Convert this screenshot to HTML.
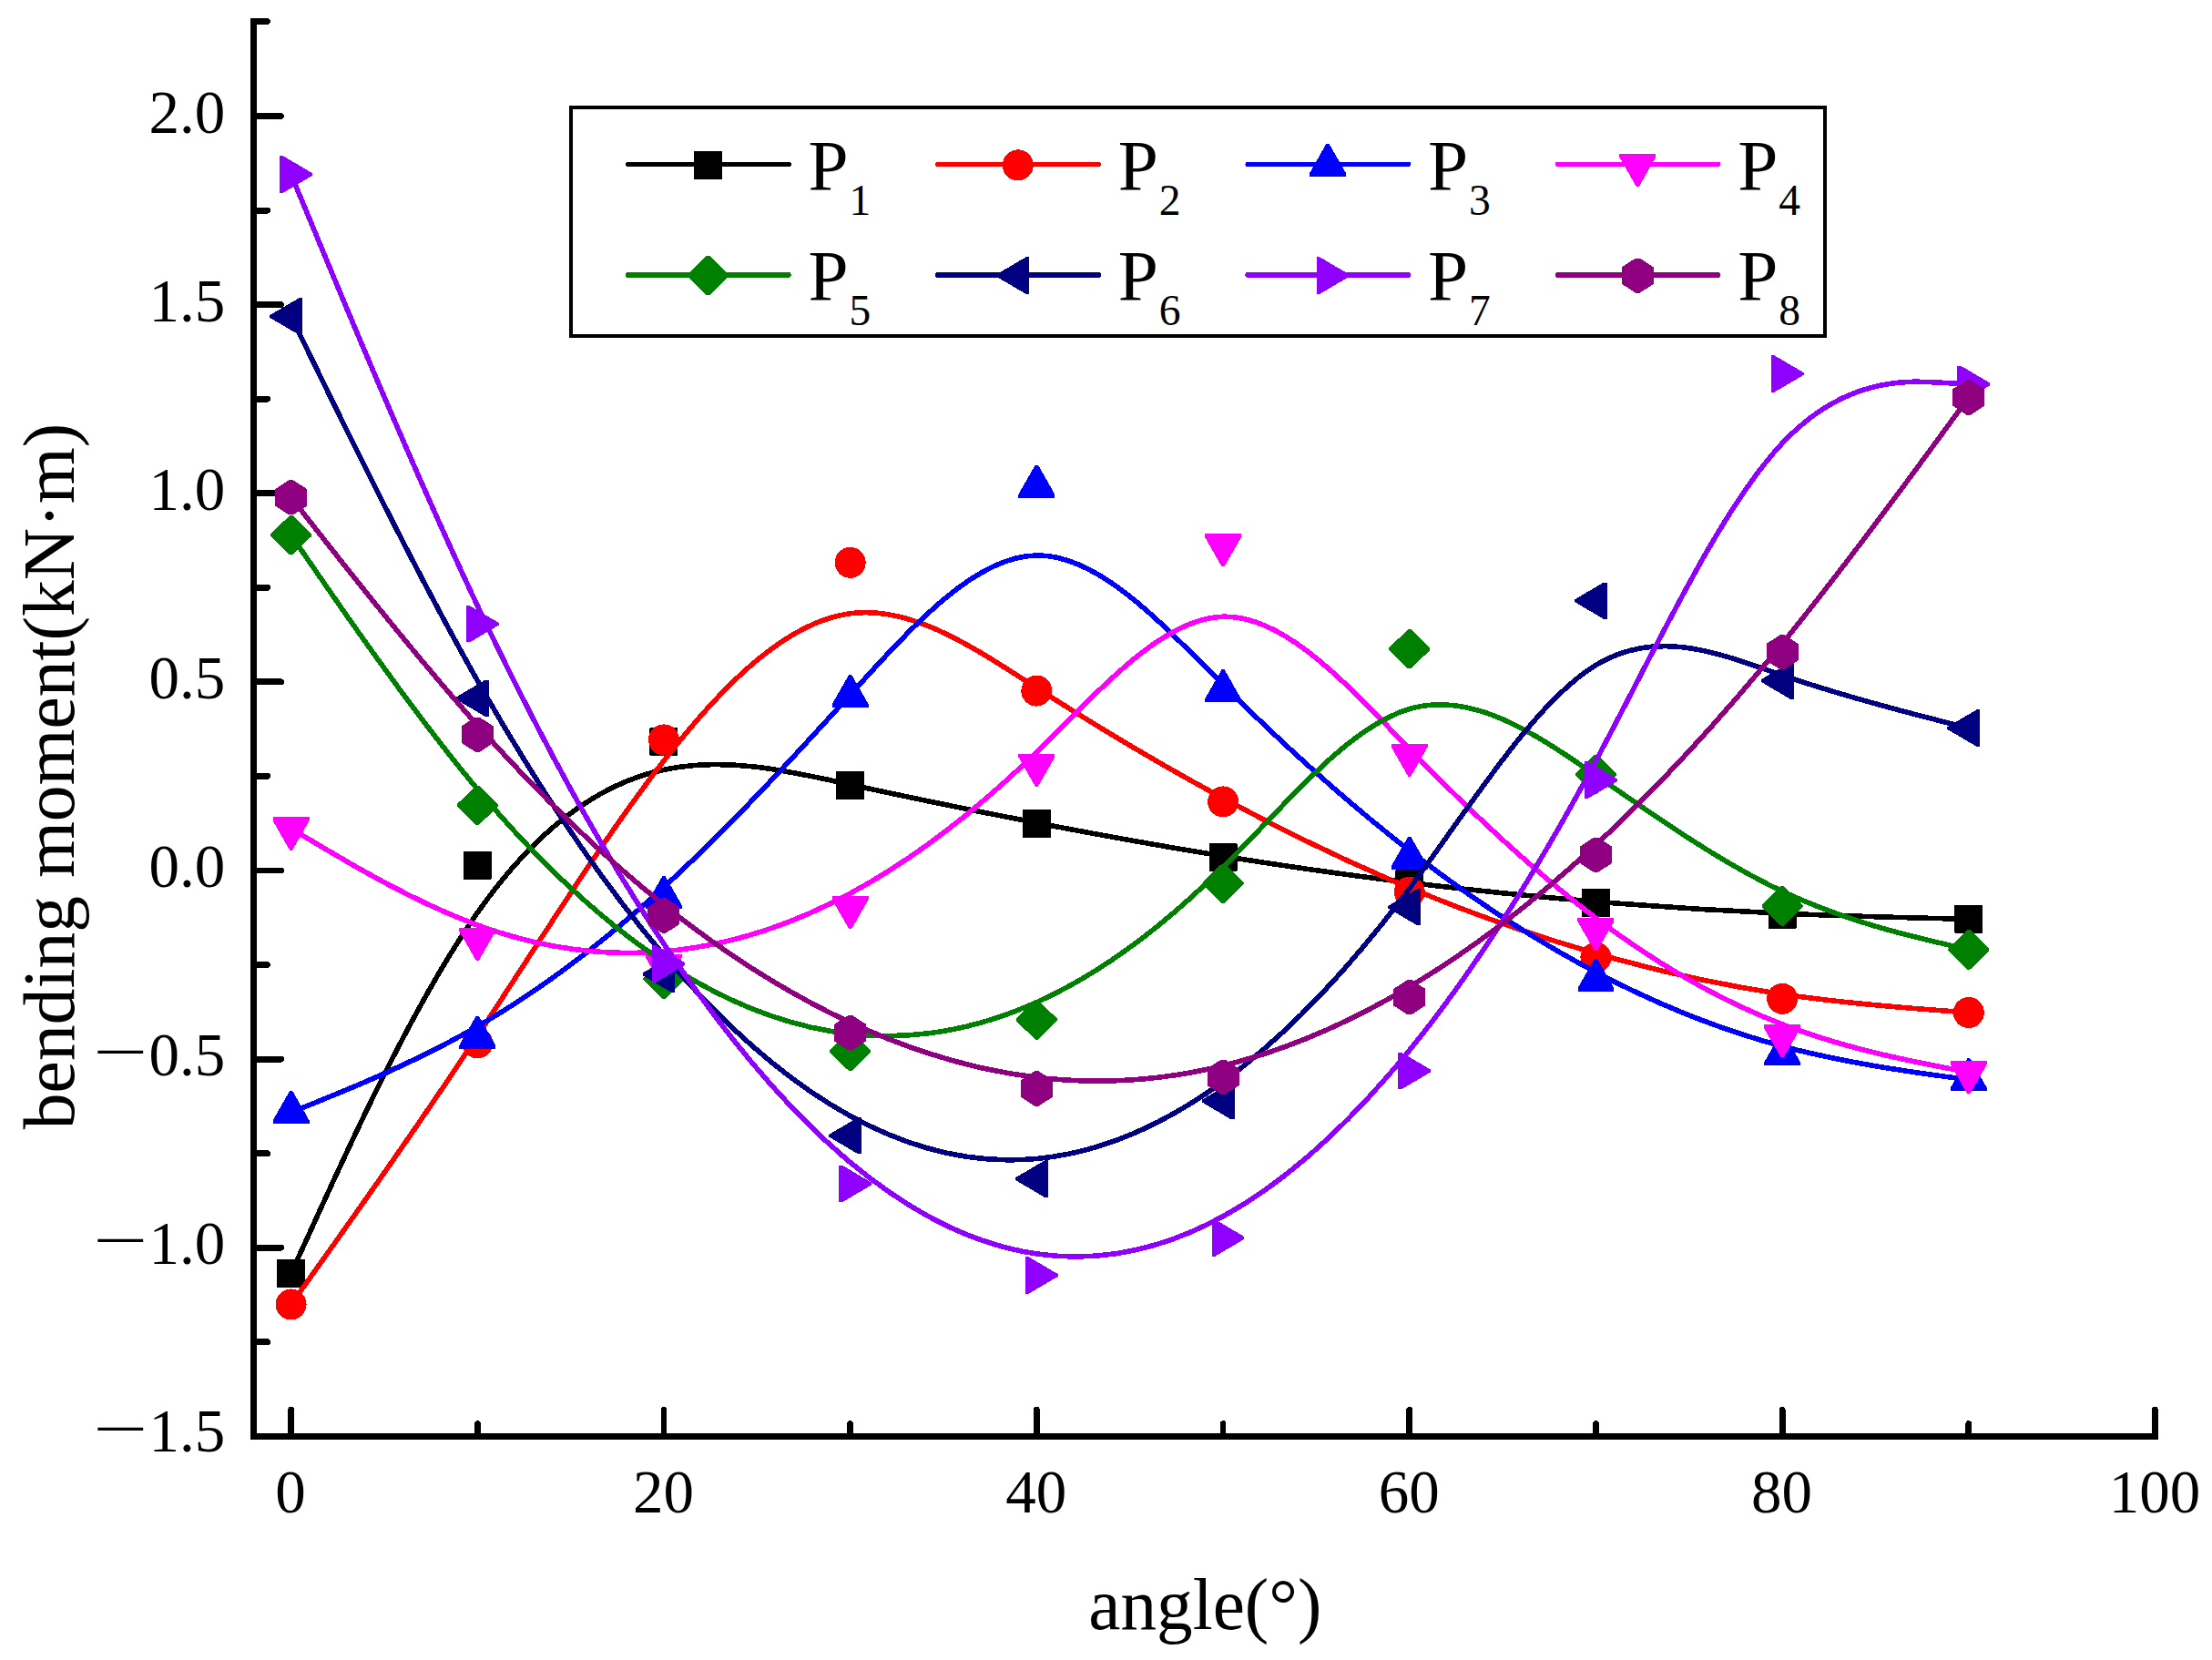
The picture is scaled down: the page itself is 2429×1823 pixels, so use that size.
<!DOCTYPE html>
<html lang="en"><head><meta charset="utf-8"><title>bending moment vs angle</title>
<style>html,body{margin:0;padding:0;background:#fff}svg{display:block}text{font-family:"Liberation Serif", "Times New Roman", serif;fill:#000}</style></head><body>
<svg width="2429" height="1823" viewBox="0 0 2429 1823" shape-rendering="crispEdges">
<rect width="2429" height="1823" fill="#fff"/>
<g stroke="#000" stroke-width="6.8" fill="none" stroke-linecap="round">
<path d="M278.7,23.5V1577.3H2366.5" stroke-linecap="butt" stroke-linejoin="miter"/>
<path d="M278.7,20.1V23.5M2366.5,1577.3H2369.9" stroke-linecap="butt"/>
<line x1="278.7" y1="23.5" x2="293.6" y2="23.5"/>
<line x1="278.7" y1="127.54" x2="308.5" y2="127.54"/>
<line x1="278.7" y1="231.1" x2="293.6" y2="231.1"/>
<line x1="278.7" y1="334.65" x2="308.5" y2="334.65"/>
<line x1="278.7" y1="438.21" x2="293.6" y2="438.21"/>
<line x1="278.7" y1="541.77" x2="308.5" y2="541.77"/>
<line x1="278.7" y1="645.33" x2="293.6" y2="645.33"/>
<line x1="278.7" y1="748.88" x2="308.5" y2="748.88"/>
<line x1="278.7" y1="852.44" x2="293.6" y2="852.44"/>
<line x1="278.7" y1="956" x2="308.5" y2="956"/>
<line x1="278.7" y1="1059.56" x2="293.6" y2="1059.56"/>
<line x1="278.7" y1="1163.12" x2="308.5" y2="1163.12"/>
<line x1="278.7" y1="1266.67" x2="293.6" y2="1266.67"/>
<line x1="278.7" y1="1370.23" x2="308.5" y2="1370.23"/>
<line x1="278.7" y1="1473.79" x2="293.6" y2="1473.79"/>
<line x1="319.6" y1="1577.3" x2="319.6" y2="1548.3"/>
<line x1="524.29" y1="1577.3" x2="524.29" y2="1563.7"/>
<line x1="728.98" y1="1577.3" x2="728.98" y2="1548.3"/>
<line x1="933.67" y1="1577.3" x2="933.67" y2="1563.7"/>
<line x1="1138.36" y1="1577.3" x2="1138.36" y2="1548.3"/>
<line x1="1343.05" y1="1577.3" x2="1343.05" y2="1563.7"/>
<line x1="1547.74" y1="1577.3" x2="1547.74" y2="1548.3"/>
<line x1="1752.43" y1="1577.3" x2="1752.43" y2="1563.7"/>
<line x1="1957.12" y1="1577.3" x2="1957.12" y2="1548.3"/>
<line x1="2161.81" y1="1577.3" x2="2161.81" y2="1563.7"/>
<line x1="2366.5" y1="1577.3" x2="2366.5" y2="1548.3"/>
</g>
<g font-size="67">
<text x="319.1" y="1660.5" text-anchor="middle">0</text>
<text x="728.48" y="1660.5" text-anchor="middle">20</text>
<text x="1137.86" y="1660.5" text-anchor="middle">40</text>
<text x="1547.24" y="1660.5" text-anchor="middle">60</text>
<text x="1956.62" y="1660.5" text-anchor="middle">80</text>
<text x="2366" y="1660.5" text-anchor="middle">100</text>
<text x="247.3" y="145.94" text-anchor="end">2.0</text>
<text x="247.3" y="352.87" text-anchor="end">1.5</text>
<text x="247.3" y="559.8" text-anchor="end">1.0</text>
<text x="247.3" y="766.73" text-anchor="end">0.5</text>
<text x="247.3" y="973.66" text-anchor="end">0.0</text>
<text x="247.3" y="1180.59" text-anchor="end">0.5</text>
<text x="0" y="0" transform="translate(102,1175.79) scale(1.6,0.93)">−</text>
<text x="247.3" y="1387.52" text-anchor="end">1.0</text>
<text x="0" y="0" transform="translate(102,1382.72) scale(1.6,0.93)">−</text>
<text x="247.3" y="1594.45" text-anchor="end">1.5</text>
<text x="0" y="0" transform="translate(102,1589.65) scale(1.6,0.93)">−</text>
</g>
<text transform="translate(1323.3,1788.5) scale(0.978,1)" font-size="81" text-anchor="middle">angle(°)</text>
<text transform="translate(81.3,852.5) rotate(-90) scale(0.982,1)" font-size="81" text-anchor="middle">bending moment(kN·m)</text>
<path d="M319.6,1398.6C319.6,1398.6 319.6,1398.6 353.71,1323.87C387.83,1249.14 456.06,1099.67 524.29,1002.36C592.52,905.05 660.75,859.9 728.98,845.3C797.21,830.7 865.44,846.64 933.67,861.59C1001.9,876.54 1070.13,890.48 1138.36,903.63C1206.59,916.79 1274.82,929.14 1343.05,940.2C1411.28,951.25 1479.51,961 1547.74,969.33C1615.97,977.66 1684.2,984.58 1752.43,990.2C1820.66,995.82 1888.89,1000.14 1957.12,1003.13C2025.35,1006.11 2093.58,1007.75 2127.7,1008.57C2161.81,1009.39 2161.81,1009.39 2161.81,1009.39" fill="none" stroke="#000000" stroke-width="5.6" stroke-linecap="round" stroke-linejoin="round"/>
<g><rect x="304.1" y="1383.1" width="31" height="31" rx="1.2" fill="#000000"/><rect x="508.79" y="934.7" width="31" height="31" rx="1.2" fill="#000000"/><rect x="713.48" y="799.25" width="31" height="31" rx="1.2" fill="#000000"/><rect x="918.17" y="847.09" width="31" height="31" rx="1.2" fill="#000000"/><rect x="1122.86" y="888.93" width="31" height="31" rx="1.2" fill="#000000"/><rect x="1327.55" y="926" width="31" height="31" rx="1.2" fill="#000000"/><rect x="1532.24" y="955.25" width="31" height="31" rx="1.2" fill="#000000"/><rect x="1736.93" y="976" width="31" height="31" rx="1.2" fill="#000000"/><rect x="1941.62" y="988.96" width="31" height="31" rx="1.2" fill="#000000"/><rect x="2146.31" y="993.89" width="31" height="31" rx="1.2" fill="#000000"/></g>
<path d="M319.6,1432.49C319.6,1432.49 319.6,1432.49 353.71,1384.62C387.83,1336.76 456.06,1241.03 524.29,1137.68C592.52,1034.33 660.75,923.36 728.98,835.45C797.21,747.53 865.44,682.68 933.67,673.72C1001.9,664.75 1070.13,711.69 1138.36,755.45C1206.59,799.21 1274.82,839.81 1343.05,876.64C1411.28,913.47 1479.51,946.54 1547.74,975.05C1615.97,1003.57 1684.2,1027.52 1752.43,1047.05C1820.66,1066.59 1888.89,1081.69 1957.12,1091.78C2025.35,1101.86 2093.58,1106.93 2127.7,1109.47C2161.81,1112 2161.81,1112 2161.81,1112" fill="none" stroke="#ff0000" stroke-width="5.6" stroke-linecap="round" stroke-linejoin="round"/>
<g><circle cx="319.6" cy="1432.49" r="17" fill="#ff0000"/><circle cx="524.29" cy="1145.3" r="17" fill="#ff0000"/><circle cx="728.98" cy="812.39" r="17" fill="#ff0000"/><circle cx="933.67" cy="617.82" r="17" fill="#ff0000"/><circle cx="1138.36" cy="758.62" r="17" fill="#ff0000"/><circle cx="1343.05" cy="880.4" r="17" fill="#ff0000"/><circle cx="1547.74" cy="979.61" r="17" fill="#ff0000"/><circle cx="1752.43" cy="1051.48" r="17" fill="#ff0000"/><circle cx="1957.12" cy="1096.8" r="17" fill="#ff0000"/><circle cx="2161.81" cy="1112" r="17" fill="#ff0000"/></g>
<path d="M319.6,1221.56C319.6,1221.56 319.6,1221.56 353.71,1207.82C387.83,1194.09 456.06,1166.61 524.29,1127.26C592.52,1087.92 660.75,1036.71 728.98,974.27C797.21,911.83 865.44,838.17 933.67,762.93C1001.9,687.7 1070.13,610.9 1138.36,609.96C1206.59,609.01 1274.82,683.92 1343.05,751.97C1411.28,820.02 1479.51,881.22 1547.74,934.15C1615.97,987.08 1684.2,1031.75 1752.43,1067.66C1820.66,1103.58 1888.89,1130.74 1957.12,1148.97C2025.35,1167.2 2093.58,1176.51 2127.7,1181.16C2161.81,1185.81 2161.81,1185.81 2161.81,1185.81" fill="none" stroke="#0000ff" stroke-width="5.6" stroke-linecap="round" stroke-linejoin="round"/>
<g><polygon points="318.1,1198.01 321.1,1198.01 339.5,1230.26 339.5,1234.06 299.7,1234.06 299.7,1230.26" fill="#0000ff"/><polygon points="522.79,1115.58 525.79,1115.58 544.19,1147.83 544.19,1151.63 504.39,1151.63 504.39,1147.83" fill="#0000ff"/><polygon points="727.48,961.94 730.48,961.94 748.88,994.19 748.88,997.99 709.08,997.99 709.08,994.19" fill="#0000ff"/><polygon points="932.17,740.95 935.17,740.95 953.57,773.2 953.57,777 913.77,777 913.77,773.2" fill="#0000ff"/><polygon points="1136.86,510.56 1139.86,510.56 1158.26,542.81 1158.26,546.61 1118.46,546.61 1118.46,542.81" fill="#0000ff"/><polygon points="1341.55,735.28 1344.55,735.28 1362.95,767.53 1362.95,771.33 1323.15,771.33 1323.15,767.53" fill="#0000ff"/><polygon points="1546.24,918.86 1549.24,918.86 1567.64,951.11 1567.64,954.91 1527.84,954.91 1527.84,951.11" fill="#0000ff"/><polygon points="1750.93,1052.87 1753.93,1052.87 1772.33,1085.12 1772.33,1088.92 1732.53,1088.92 1732.53,1085.12" fill="#0000ff"/><polygon points="1955.62,1134.35 1958.62,1134.35 1977.02,1166.6 1977.02,1170.4 1937.22,1170.4 1937.22,1166.6" fill="#0000ff"/><polygon points="2160.31,1162.26 2163.31,1162.26 2181.71,1194.51 2181.71,1198.31 2141.91,1198.31 2141.91,1194.51" fill="#0000ff"/></g>
<path d="M319.6,909.98C319.6,909.98 319.6,909.98 353.71,930.21C387.83,950.44 456.06,990.89 524.29,1015.95C592.52,1041.01 660.75,1050.68 728.98,1044.88C797.21,1039.08 865.44,1017.82 933.67,981.11C1001.9,944.4 1070.13,892.25 1138.36,825.92C1206.59,759.6 1274.82,679.1 1343.05,677.25C1411.28,675.4 1479.51,752.2 1547.74,822.54C1615.97,892.87 1684.2,956.75 1752.43,1008.21C1820.66,1059.68 1888.89,1098.74 1957.12,1124.9C2025.35,1151.06 2093.58,1164.32 2127.7,1170.94C2161.81,1177.57 2161.81,1177.57 2161.81,1177.57" fill="none" stroke="#ff00ff" stroke-width="5.6" stroke-linecap="round" stroke-linejoin="round"/>
<g><polygon points="318.1,933.53 321.1,933.53 339.6,901.28 339.6,897.48 299.6,897.48 299.6,901.28" fill="#ff00ff"/><polygon points="522.79,1054.9 525.79,1054.9 544.29,1022.65 544.29,1018.85 504.29,1018.85 504.29,1022.65" fill="#ff00ff"/><polygon points="727.48,1083.89 730.48,1083.89 748.98,1051.64 748.98,1047.84 708.98,1047.84 708.98,1051.64" fill="#ff00ff"/><polygon points="932.17,1020.1 935.17,1020.1 953.67,987.85 953.67,984.05 913.67,984.05 913.67,987.85" fill="#ff00ff"/><polygon points="1136.86,863.65 1139.86,863.65 1158.36,831.4 1158.36,827.6 1118.36,827.6 1118.36,831.4" fill="#ff00ff"/><polygon points="1341.55,622.15 1344.55,622.15 1363.05,589.9 1363.05,586.1 1323.05,586.1 1323.05,589.9" fill="#ff00ff"/><polygon points="1546.24,852.55 1549.24,852.55 1567.74,820.3 1567.74,816.5 1527.74,816.5 1527.74,820.3" fill="#ff00ff"/><polygon points="1750.93,1044.17 1753.93,1044.17 1772.43,1011.92 1772.43,1008.12 1732.43,1008.12 1732.43,1011.92" fill="#ff00ff"/><polygon points="1955.62,1161.36 1958.62,1161.36 1977.12,1129.11 1977.12,1125.31 1937.12,1125.31 1937.12,1129.11" fill="#ff00ff"/><polygon points="2160.31,1201.12 2163.31,1201.12 2181.81,1168.87 2181.81,1165.07 2141.81,1165.07 2141.81,1168.87" fill="#ff00ff"/></g>
<path d="M319.6,587.75C319.6,587.75 319.6,587.75 353.71,637.18C387.83,686.61 456.06,785.48 524.29,866.69C592.52,947.89 660.75,1011.45 728.98,1056.46C797.21,1101.48 865.44,1127.95 933.67,1135.43C1001.9,1142.91 1070.13,1131.41 1138.36,1100.71C1206.59,1070.01 1274.82,1020.11 1343.05,952.24C1411.28,884.38 1479.51,798.55 1547.74,778.56C1615.97,758.58 1684.2,804.43 1752.43,851.46C1820.66,898.49 1888.89,946.69 1957.12,978.81C2025.35,1010.93 2093.58,1026.96 2127.7,1034.97C2161.81,1042.99 2161.81,1042.99 2161.81,1042.99" fill="none" stroke="#008000" stroke-width="5.6" stroke-linecap="round" stroke-linejoin="round"/>
<g><polygon points="318.1,566.05 321.1,566.05 342.1,586.55 342.1,588.95 321.1,609.45 318.1,609.45 297.1,588.95 297.1,586.55" fill="#008000"/><polygon points="522.79,862.64 525.79,862.64 546.79,883.14 546.79,885.54 525.79,906.04 522.79,906.04 501.79,885.54 501.79,883.14" fill="#008000"/><polygon points="727.48,1053.31 730.48,1053.31 751.48,1073.81 751.48,1076.21 730.48,1096.71 727.48,1096.71 706.48,1076.21 706.48,1073.81" fill="#008000"/><polygon points="932.17,1132.72 935.17,1132.72 956.17,1153.22 956.17,1155.62 935.17,1176.12 932.17,1176.12 911.17,1155.62 911.17,1153.22" fill="#008000"/><polygon points="1136.86,1098.21 1139.86,1098.21 1160.86,1118.71 1160.86,1121.11 1139.86,1141.61 1136.86,1141.61 1115.86,1121.11 1115.86,1118.71" fill="#008000"/><polygon points="1341.55,948.51 1344.55,948.51 1365.55,969.01 1365.55,971.41 1344.55,991.91 1341.55,991.91 1320.55,971.41 1320.55,969.01" fill="#008000"/><polygon points="1546.24,691.02 1549.24,691.02 1570.24,711.52 1570.24,713.92 1549.24,734.42 1546.24,734.42 1525.24,713.92 1525.24,711.52" fill="#008000"/><polygon points="1750.93,828.59 1753.93,828.59 1774.93,849.09 1774.93,851.49 1753.93,871.99 1750.93,871.99 1729.93,851.49 1729.93,849.09" fill="#008000"/><polygon points="1955.62,973.2 1958.62,973.2 1979.62,993.7 1979.62,996.1 1958.62,1016.6 1955.62,1016.6 1934.62,996.1 1934.62,993.7" fill="#008000"/><polygon points="2160.31,1021.29 2163.31,1021.29 2184.31,1041.79 2184.31,1044.19 2163.31,1064.69 2160.31,1064.69 2139.31,1044.19 2139.31,1041.79" fill="#008000"/></g>
<path d="M319.6,347.5C319.6,347.5 319.6,347.5 353.71,417.38C387.83,487.27 456.06,627.05 524.29,747.45C592.52,867.85 660.75,968.88 728.98,1048.95C797.21,1129.01 865.44,1188.11 933.67,1225.56C1001.9,1263.01 1070.13,1278.82 1138.36,1272.47C1206.59,1266.12 1274.82,1237.61 1343.05,1187.87C1411.28,1138.12 1479.51,1067.15 1547.74,975.59C1615.97,884.02 1684.2,771.86 1752.43,730.42C1820.66,688.97 1888.89,718.25 1957.12,741.57C2025.35,764.89 2093.58,782.26 2127.7,790.94C2161.81,799.63 2161.81,799.63 2161.81,799.63" fill="none" stroke="#000080" stroke-width="5.6" stroke-linecap="round" stroke-linejoin="round"/>
<g><polygon points="296.2,346.2 296.2,348.8 328.3,367.7 332.1,367.7 332.1,327.3 328.3,327.3" fill="#000080"/><polygon points="500.89,765.52 500.89,768.12 532.99,787.02 536.79,787.02 536.79,746.62 532.99,746.62" fill="#000080"/><polygon points="705.58,1068.61 705.58,1071.21 737.68,1090.11 741.48,1090.11 741.48,1049.71 737.68,1049.71" fill="#000080"/><polygon points="910.27,1245.9 910.27,1248.5 942.37,1267.4 946.17,1267.4 946.17,1227 942.37,1227" fill="#000080"/><polygon points="1114.96,1293.33 1114.96,1295.93 1147.06,1314.83 1150.86,1314.83 1150.86,1274.43 1147.06,1274.43" fill="#000080"/><polygon points="1319.65,1207.79 1319.65,1210.39 1351.75,1229.29 1355.55,1229.29 1355.55,1188.89 1351.75,1188.89" fill="#000080"/><polygon points="1524.34,994.88 1524.34,997.48 1556.44,1016.38 1560.24,1016.38 1560.24,975.98 1556.44,975.98" fill="#000080"/><polygon points="1729.03,658.4 1729.03,661 1761.13,679.9 1764.93,679.9 1764.93,639.5 1761.13,639.5" fill="#000080"/><polygon points="1933.72,746.22 1933.72,748.82 1965.82,767.72 1969.62,767.72 1969.62,727.32 1965.82,727.32" fill="#000080"/><polygon points="2138.41,798.33 2138.41,800.93 2170.51,819.83 2174.31,819.83 2174.31,779.43 2170.51,779.43" fill="#000080"/></g>
<path d="M319.6,191.5C319.6,191.5 319.6,191.5 353.71,273.78C387.83,356.07 456.06,520.64 524.29,665.15C592.52,809.65 660.75,934.09 728.98,1036.55C797.21,1139.02 865.44,1219.52 933.67,1276.52C1001.9,1333.52 1070.13,1367.01 1138.36,1376.92C1206.59,1386.83 1274.82,1373.14 1343.05,1335.73C1411.28,1298.32 1479.51,1237.18 1547.74,1153.38C1615.97,1069.58 1684.2,963.12 1752.43,835.54C1820.66,707.95 1888.89,559.22 1957.12,486.76C2025.35,414.3 2093.58,418.09 2127.7,419.99C2161.81,421.89 2161.81,421.89 2161.81,421.89" fill="none" stroke="#8f00ff" stroke-width="5.6" stroke-linecap="round" stroke-linejoin="round"/>
<g><polygon points="343,190.2 343,192.8 310.9,211.7 307.1,211.7 307.1,171.3 310.9,171.3" fill="#8f00ff"/><polygon points="547.69,683.92 547.69,686.52 515.59,705.42 511.79,705.42 511.79,665.02 515.59,665.02" fill="#8f00ff"/><polygon points="752.38,1057.22 752.38,1059.82 720.28,1078.72 716.48,1078.72 716.48,1038.32 720.28,1038.32" fill="#8f00ff"/><polygon points="957.07,1298.72 957.07,1301.32 924.97,1320.22 921.17,1320.22 921.17,1279.82 924.97,1279.82" fill="#8f00ff"/><polygon points="1161.76,1399.21 1161.76,1401.81 1129.66,1420.71 1125.86,1420.71 1125.86,1380.31 1129.66,1380.31" fill="#8f00ff"/><polygon points="1366.45,1358.16 1366.45,1360.76 1334.35,1379.66 1330.55,1379.66 1330.55,1339.26 1334.35,1339.26" fill="#8f00ff"/><polygon points="1571.14,1174.74 1571.14,1177.34 1539.04,1196.24 1535.24,1196.24 1535.24,1155.84 1539.04,1155.84" fill="#8f00ff"/><polygon points="1775.83,855.37 1775.83,857.97 1743.73,876.87 1739.93,876.87 1739.93,836.47 1743.73,836.47" fill="#8f00ff"/><polygon points="1980.52,409.2 1980.52,411.8 1948.42,430.7 1944.62,430.7 1944.62,390.3 1948.42,390.3" fill="#8f00ff"/><polygon points="2185.21,420.59 2185.21,423.19 2153.11,442.09 2149.31,442.09 2149.31,401.69 2153.11,401.69" fill="#8f00ff"/></g>
<path d="M319.6,546.33C319.6,546.33 319.6,546.33 353.71,589.72C387.83,633.12 456.06,719.92 524.29,796.45C592.52,872.97 660.75,939.24 728.98,993.81C797.21,1048.37 865.44,1091.25 933.67,1122.91C1001.9,1154.58 1070.13,1175.04 1138.36,1183.16C1206.59,1191.27 1274.82,1187.03 1343.05,1170.31C1411.28,1153.59 1479.51,1124.38 1547.74,1083.72C1615.97,1043.06 1684.2,990.93 1752.43,927.77C1820.66,864.61 1888.89,790.4 1957.12,706.68C2025.35,622.96 2093.58,529.72 2127.7,483.09C2161.81,436.47 2161.81,436.47 2161.81,436.47" fill="none" stroke="#8f0081" stroke-width="5.6" stroke-linecap="round" stroke-linejoin="round"/>
<g><polygon points="317.3,527.28 321.9,527.28 337.1,537.13 337.1,555.53 321.9,565.38 317.3,565.38 302.1,555.53 302.1,537.13" fill="#8f0081"/><polygon points="521.99,787.66 526.59,787.66 541.79,797.51 541.79,815.91 526.59,825.76 521.99,825.76 506.79,815.91 506.79,797.51" fill="#8f0081"/><polygon points="726.68,986.45 731.28,986.45 746.48,996.3 746.48,1014.7 731.28,1024.55 726.68,1024.55 711.48,1014.7 711.48,996.3" fill="#8f0081"/><polygon points="931.37,1115.07 935.97,1115.07 951.17,1124.92 951.17,1143.32 935.97,1153.17 931.37,1153.17 916.17,1143.32 916.17,1124.92" fill="#8f0081"/><polygon points="1136.06,1176.46 1140.66,1176.46 1155.86,1186.31 1155.86,1204.71 1140.66,1214.56 1136.06,1214.56 1120.86,1204.71 1120.86,1186.31" fill="#8f0081"/><polygon points="1340.75,1163.74 1345.35,1163.74 1360.55,1173.59 1360.55,1191.99 1345.35,1201.84 1340.75,1201.84 1325.55,1191.99 1325.55,1173.59" fill="#8f0081"/><polygon points="1545.44,1076.13 1550.04,1076.13 1565.24,1085.98 1565.24,1104.38 1550.04,1114.23 1545.44,1114.23 1530.24,1104.38 1530.24,1085.98" fill="#8f0081"/><polygon points="1750.13,919.76 1754.73,919.76 1769.93,929.61 1769.93,948.01 1754.73,957.86 1750.13,957.86 1734.93,948.01 1734.93,929.61" fill="#8f0081"/><polygon points="1954.82,697.15 1959.42,697.15 1974.62,707 1974.62,725.4 1959.42,735.25 1954.82,735.25 1939.62,725.4 1939.62,707" fill="#8f0081"/><polygon points="2159.51,417.42 2164.11,417.42 2179.31,427.27 2179.31,445.67 2164.11,455.52 2159.51,455.52 2144.31,445.67 2144.31,427.27" fill="#8f0081"/></g>
<rect x="627" y="117.9" width="1377" height="251.1" fill="#fff" stroke="#000" stroke-width="4"/>
<line x1="689.4" y1="180.4" x2="866.2" y2="180.4" stroke="#000000" stroke-width="5" stroke-linecap="round"/>
<rect x="762" y="165.8" width="31" height="31" rx="1.2" fill="#000000"/>
<text x="887.5" y="207.7" font-size="79.3">P<tspan font-size="47.5" dx="0.8" dy="27.8">1</tspan></text>
<line x1="1029.65" y1="180.4" x2="1206.45" y2="180.4" stroke="#ff0000" stroke-width="5" stroke-linecap="round"/>
<circle cx="1117.75" cy="181.3" r="17" fill="#ff0000"/>
<text x="1227.75" y="207.7" font-size="79.3">P<tspan font-size="47.5" dx="0.8" dy="27.8">2</tspan></text>
<line x1="1369.9" y1="180.4" x2="1546.7" y2="180.4" stroke="#0000ff" stroke-width="5" stroke-linecap="round"/>
<polygon points="1456.5,157.75 1459.5,157.75 1477.9,190 1477.9,193.8 1438.1,193.8 1438.1,190" fill="#0000ff"/>
<text x="1568" y="207.7" font-size="79.3">P<tspan font-size="47.5" dx="0.8" dy="27.8">3</tspan></text>
<line x1="1710.2" y1="180.4" x2="1887" y2="180.4" stroke="#ff00ff" stroke-width="5" stroke-linecap="round"/>
<polygon points="1796.8,204.85 1799.8,204.85 1818.3,172.6 1818.3,168.8 1778.3,168.8 1778.3,172.6" fill="#ff00ff"/>
<text x="1908.3" y="207.7" font-size="79.3">P<tspan font-size="47.5" dx="0.8" dy="27.8">4</tspan></text>
<line x1="689.9" y1="301.95" x2="865.7" y2="301.95" stroke="#008000" stroke-width="6" stroke-linecap="round"/>
<polygon points="776,280.9 779,280.9 800,301.4 800,303.8 779,324.3 776,324.3 755,303.8 755,301.4" fill="#008000"/>
<text x="887.5" y="328.9" font-size="79.3">P<tspan font-size="47.5" dx="0.8" dy="27.8">5</tspan></text>
<line x1="1030.15" y1="301.95" x2="1205.95" y2="301.95" stroke="#000080" stroke-width="6" stroke-linecap="round"/>
<polygon points="1094.35,301.3 1094.35,303.9 1126.45,322.8 1130.25,322.8 1130.25,282.4 1126.45,282.4" fill="#000080"/>
<text x="1227.75" y="328.9" font-size="79.3">P<tspan font-size="47.5" dx="0.8" dy="27.8">6</tspan></text>
<line x1="1370.4" y1="301.95" x2="1546.2" y2="301.95" stroke="#8f00ff" stroke-width="6" stroke-linecap="round"/>
<polygon points="1481.4,301.3 1481.4,303.9 1449.3,322.8 1445.5,322.8 1445.5,282.4 1449.3,282.4" fill="#8f00ff"/>
<text x="1568" y="328.9" font-size="79.3">P<tspan font-size="47.5" dx="0.8" dy="27.8">7</tspan></text>
<line x1="1710.7" y1="301.95" x2="1886.5" y2="301.95" stroke="#8f0081" stroke-width="6" stroke-linecap="round"/>
<polygon points="1796,283.55 1800.6,283.55 1815.8,293.4 1815.8,311.8 1800.6,321.65 1796,321.65 1780.8,311.8 1780.8,293.4" fill="#8f0081"/>
<text x="1908.3" y="328.9" font-size="79.3">P<tspan font-size="47.5" dx="0.8" dy="27.8">8</tspan></text>
</svg></body></html>
